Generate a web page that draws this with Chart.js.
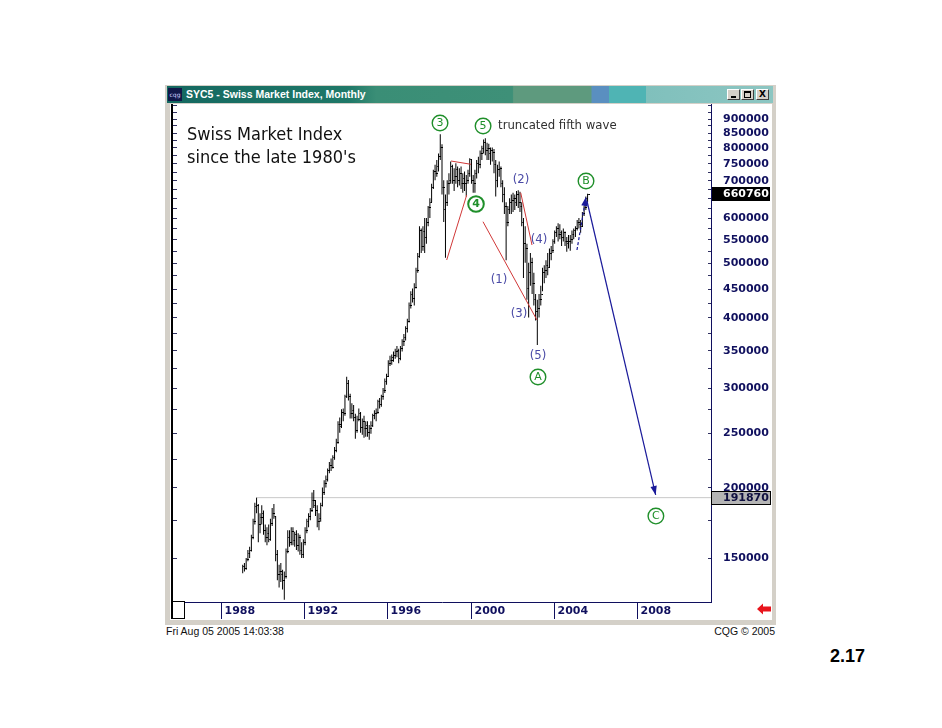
<!DOCTYPE html>
<html lang="en">
<head>
<meta charset="UTF-8">
<title>SYC5 - Swiss Market Index, Monthly</title>
<script src="https://cdn.jsdelivr.net/npm/chart.js"></script>
<style>
    body { margin: 0; background: #fff; width: 942px; height: 728px; overflow: hidden; position: relative; font-family: "Liberation Sans", Arial, sans-serif; }
    .frame { position: absolute; left: 165px; top: 85px; width: 611px; height: 540px; background: #d4d0c8; }
    .titlebar { position: absolute; left: 167px; top: 86px; width: 606px; height: 17px; color: #fff;
        background: linear-gradient(to right, #146860 0%, #1f7868 30%, #3a8e76 34.5%, #3e9078 57%, #5e9a7e 57.2%, #5e9a7e 70%,
            #5a8fc0 70.1%, #5a8fc0 72.9%, #4fb4b4 73%, #4fb4b4 79%, #80c0bc 79.1%, #8cc6c2 100%); }
    .titlebar .icon { position: absolute; left: 1px; top: 2px; width: 14px; height: 13px; background: #101848; color: #d0d0ff; font: 6px "DejaVu Sans"; line-height: 13px; text-align: center; }
    .titlebar .text { position: absolute; left: 19px; top: 0; font: bold 10.5px "Liberation Sans", Arial, sans-serif; line-height: 17px; white-space: nowrap; }
    .btn { position: absolute; top: 3px; width: 13px; height: 11px; background: #d4d0c8; box-sizing: border-box;
        border-top: 1px solid #fff; border-left: 1px solid #fff; border-right: 1px solid #404040; border-bottom: 1px solid #404040; }
    .btn.min::after { content: ""; position: absolute; left: 3px; top: 6px; width: 5px; height: 2px; background: #000; }
    .btn.max::after { content: ""; position: absolute; left: 2px; top: 1px; width: 5px; height: 4px; border: 1px solid #000; border-top-width: 2px; }
    .btn.cls { font: bold 9px "DejaVu Sans"; line-height: 9px; text-align: center; color: #000; }
    .panel { position: absolute; left: 170px; top: 104px; width: 602px; height: 516px; background: #fff; }
    .foot { position: absolute; top: 625px; font-size: 10.5px; color: #111; white-space: nowrap; }
    .page { position: absolute; left: 830px; top: 646px; font: bold 18px "Liberation Sans", Arial, sans-serif; color: #000; }
    #smiChart { position: absolute; left: 0; top: 0; }
</style>
</head>
<body>
    <div class="frame"></div>
    <div class="titlebar">
        <div class="icon">cqg</div>
        <div class="text">SYC5 - Swiss Market Index, Monthly</div>
        <div class="btn min" style="left:560px"></div>
        <div class="btn max" style="left:574px"></div>
        <div class="btn cls" style="left:589px">X</div>
    </div>
    <div class="panel"></div>
    <div class="foot" style="left:166px">Fri Aug 05 2005 14:03:38</div>
    <div class="foot" style="right:167px">CQG &copy; 2005</div>
    <div class="page">2.17</div>
    <canvas id="smiChart" width="942" height="728"></canvas>

<script>
// monthly bars, Jan 1989 .. Aug 2005, values in thousands (chart units)
const startYear = 1989;
const highsK = [
    146, 147, 150, 155, 157, 165, 176, 188, 191.87, 187, 180, 186,
    182, 172, 170, 172, 176, 184, 187, 178, 155, 146, 147, 143,
    142, 156, 168, 168, 170, 170, 167, 168, 166, 165, 160, 162,
    170, 176, 180, 184, 196, 198, 190, 186, 180, 188, 200, 206,
    210, 216, 222, 225, 228, 236, 244, 262, 266, 275, 276, 292,
    314, 310, 293, 282, 280, 270, 268, 276, 272, 265, 268, 262,
    262, 258, 262, 270, 274, 276, 286, 288, 292, 300, 312, 318,
    336, 342, 344, 348, 352, 356, 352, 356, 366, 374, 386, 398,
    425, 445, 450, 460, 490, 520, 580, 575, 580, 600, 600, 630,
    650, 690, 730, 745, 760, 780, 844, 810, 700, 660, 700, 720,
    755, 745, 735, 750, 740, 735, 740, 720, 725, 715, 730, 765,
    760, 715, 730, 760, 770, 790, 805, 826, 830, 815, 812, 800,
    800, 795, 760, 745, 755, 740, 700, 680, 640, 630, 650, 660,
    665, 660, 670, 672, 668, 640, 600, 580, 540, 500, 520, 510,
    480, 440, 430, 440, 455, 490, 495, 505, 520, 530, 535, 550,
    570, 580, 587, 585, 570, 575, 568, 555, 560, 560, 570, 575,
    580, 595, 600, 595, 615, 630, 655, 662
];
const lowsK = [
    141, 142, 143, 148, 150, 154, 162, 172, 180, 160, 166, 172,
    165, 160, 158, 160, 161, 171, 176, 148, 137, 133, 136, 132,
    126.5, 138, 153, 157, 158, 158, 157, 155, 154, 152, 150, 150,
    158, 166, 170, 175, 181, 184, 178, 170, 168, 174, 185, 194,
    200, 205, 212, 214, 216, 224, 231, 239, 250, 255, 262, 268,
    288, 285, 265, 265, 262, 244, 250, 262, 250, 248, 245, 246,
    246, 243, 249, 256, 264, 262, 270, 276, 278, 286, 294, 304,
    314, 328, 330, 334, 338, 340, 332, 336, 348, 356, 364, 376,
    392, 415, 425, 420, 450, 480, 510, 520, 525, 520, 540, 580,
    600, 640, 675, 700, 710, 725, 760, 660, 590, 510, 630, 660,
    690, 690, 670, 690, 680, 685, 675, 665, 670, 655, 690, 710,
    690, 665, 665, 705, 720, 735, 760, 780, 775, 760, 760, 745,
    755, 720, 655, 680, 710, 680, 640, 610, 505, 580, 610, 610,
    615, 620, 630, 625, 615, 580, 470, 500, 430, 400, 455, 440,
    420, 395, 357.5, 400, 420, 445, 460, 470, 475, 490, 505, 520,
    540, 555, 545, 550, 535, 545, 535, 523, 530, 525, 540, 550,
    555, 570, 575, 565, 580, 605, 620, 640
];
const closesK = [
    145, 144, 149, 153, 155, 163, 174, 185, 186, 172, 177, 180,
    168, 163, 166, 162, 173, 180, 178, 152, 140, 142, 140, 137,
    139, 154, 163, 160, 167, 161, 165, 158, 163, 155, 152, 160,
    168, 174, 178, 182, 190, 186, 182, 174, 176, 186, 196, 203,
    207, 214, 219, 217, 226, 233, 240, 259, 256, 272, 270, 290,
    305, 290, 270, 274, 266, 252, 264, 270, 255, 262, 254, 258,
    250, 254, 258, 268, 270, 272, 284, 281, 290, 297, 308, 315,
    332, 336, 340, 343, 348, 350, 338, 352, 362, 368, 382, 394,
    420, 440, 432, 452, 485, 512, 570, 535, 568, 555, 590, 625,
    640, 680, 725, 720, 740, 770, 800, 680, 620, 640, 690, 700,
    740, 700, 710, 730, 700, 720, 690, 705, 690, 700, 720, 760,
    700, 690, 720, 750, 745, 780, 795, 815, 790, 795, 780, 790,
    785, 745, 700, 730, 735, 690, 660, 630, 590, 620, 640, 645,
    650, 640, 660, 640, 630, 590, 540, 530, 450, 480, 500, 460,
    430, 410, 415, 430, 440, 480, 485, 495, 490, 520, 525, 545,
    565, 575, 560, 565, 555, 565, 545, 540, 545, 550, 560, 570,
    575, 590, 585, 580, 610, 625, 650, 660.76
];

const yLabels = [900000, 850000, 800000, 750000, 700000, 600000, 550000, 500000,
    450000, 400000, 350000, 300000, 250000, 200000, 150000];
const yearTicks = [1988, 1992, 1996, 2000, 2004, 2008];
const lastValue = 660760;
const levelValue = 191870;
const levelFrom = 1989.68;

// Elliott wave annotations: [year, value]
const circled = [
    { t: 1998.53, v: 883600, text: "3" },
    { t: 2000.60, v: 872900, text: "5" },
    { t: 2000.26, v: 635100, text: "4", bold: true },
    { t: 2003.24, v: 313800, text: "A" },
    { t: 2005.55, v: 697600, text: "B" },
    { t: 2008.91, v: 178000, text: "C" }
];
const subWaves = [
    { t: 2002.42, v: 700500, text: "(2)" },
    { t: 2003.29, v: 548500, text: "(4)" },
    { t: 2001.37, v: 465900, text: "(1)" },
    { t: 2002.33, v: 405600, text: "(3)" },
    { t: 2003.24, v: 341700, text: "(5)" }
];
const note = { t: 2001.32, v: 872900, text: "truncated fifth wave" };
const redLines = [
    [[1998.851, 505500], [1999.813, 658900]],
    [[1999.058, 756800], [2000.019, 746700]],
    [[2000.596, 590900], [2003.192, 395800]],
    [[2002.409, 665100], [2002.952, 537400]]
];
const blueArrows = [
    [[2005.115, 526600], [2005.548, 653600]],
    [[2005.596, 643000], [2008.899, 194000]]
];

const X_MIN = 1985.69, X_MAX = 2011.56;
const NAVY = "#10105e";

const monthT = highsK.map((_, i) => startYear + (i + 0.5) / 12);

// close tick drawn to the right of each bar
const closeTick = document.createElement("canvas");
closeTick.width = 5; closeTick.height = 1;
closeTick.getContext("2d").fillRect(3, 0, 2, 1);

const pt = p => ({ x: p[0], y: p[1] });

const datasets = [
    {
        type: "bar",
        data: monthT.map((t, i) => ({ x: t, y: [lowsK[i] * 1000, highsK[i] * 1000] })),
        backgroundColor: "#000",
        barThickness: 1,
        inflateAmount: 0,
        order: 5
    },
    {
        type: "scatter",
        data: monthT.map((t, i) => ({ x: t, y: closesK[i] * 1000 })),
        pointStyle: closeTick,
        pointRadius: 2,
        order: 4
    },
    {
        type: "line",
        data: [{ x: levelFrom, y: levelValue }, { x: X_MAX, y: levelValue }],
        borderColor: "#c8c8c8", borderWidth: 1, pointRadius: 0, order: 10
    }
];
redLines.forEach(l => datasets.push({
    type: "line", data: l.map(pt), borderColor: "#d03838", borderWidth: 1, pointRadius: 0, order: 1
}));
blueArrows.forEach((l, i) => datasets.push({
    type: "line", data: l.map(pt), borderColor: "#1a1a9a", borderWidth: 1.2, pointRadius: 0,
    borderDash: i === 0 ? [3, 2] : [], order: 1, arrow: true
}));

const chromePlugin = {
    id: "chrome",
    afterDatasetsDraw(chart) {
        const ctx = chart.ctx;
        ctx.save();
        chart.data.datasets.forEach((ds, i) => {
            if (!ds.arrow) return;
            const pts = chart.getDatasetMeta(i).data;
            const a = pts[pts.length - 2], b = pts[pts.length - 1];
            const ang = Math.atan2(b.y - a.y, b.x - a.x);
            ctx.fillStyle = "#1a1a9a";
            ctx.beginPath();
            ctx.moveTo(b.x, b.y);
            ctx.lineTo(b.x - 9 * Math.cos(ang) + 3.2 * Math.sin(ang), b.y - 9 * Math.sin(ang) - 3.2 * Math.cos(ang));
            ctx.lineTo(b.x - 9 * Math.cos(ang) - 3.2 * Math.sin(ang), b.y - 9 * Math.sin(ang) + 3.2 * Math.cos(ang));
            ctx.closePath();
            ctx.fill();
        });
        ctx.restore();
    },
    afterDraw(chart) {
        const { ctx, chartArea: a } = chart;
        const xs = chart.scales.x, ys = chart.scales.y;
        ctx.save();

        // plot frame
        ctx.strokeStyle = NAVY;
        ctx.lineWidth = 1;
        ctx.beginPath();
        ctx.moveTo(a.right + 0.5, a.top); ctx.lineTo(a.right + 0.5, a.bottom + 1);
        ctx.moveTo(a.left, a.bottom + 0.5); ctx.lineTo(a.right + 1, a.bottom + 0.5);
        ctx.stroke();
        ctx.fillStyle = "#000";
        ctx.fillRect(a.left - 2, a.top, 2, 515);

        // minor ticks on both price edges
        ctx.strokeStyle = "#303060";
        ctx.beginPath();
        for (let v = 125000; v <= 950000; v += 25000) {
            const py = Math.round(ys.getPixelForValue(v)) + 0.5;
            if (py < a.top || py > a.bottom) continue;
            ctx.moveTo(a.left, py); ctx.lineTo(a.left + 4, py);
            ctx.moveTo(a.right - 3, py); ctx.lineTo(a.right, py);
        }
        ctx.stroke();

        // time axis strip
        ctx.strokeStyle = NAVY;
        ctx.fillStyle = NAVY;
        ctx.font = 'bold 11px "DejaVu Sans"';
        ctx.textBaseline = "alphabetic";
        ctx.textAlign = "left";
        yearTicks.forEach(yr => {
            const px = Math.round(xs.getPixelForValue(yr)) + 0.5;
            ctx.beginPath(); ctx.moveTo(px, a.bottom); ctx.lineTo(px, a.bottom + 17); ctx.stroke();
            ctx.fillText(String(yr), px + 3, a.bottom + 12);
        });
        ctx.fillStyle = "#fff";
        ctx.fillRect(a.left, a.bottom - 1, 11, 17);
        ctx.strokeStyle = "#000";
        ctx.strokeRect(a.left - 0.5, a.bottom - 0.5, 12, 17);

        // red scroll arrow
        ctx.fillStyle = "#e8141c";
        ctx.beginPath();
        ctx.moveTo(757, 609); ctx.lineTo(763, 603.5); ctx.lineTo(763, 606.5); ctx.lineTo(771, 606.5);
        ctx.lineTo(771, 611.5); ctx.lineTo(763, 611.5); ctx.lineTo(763, 614.5);
        ctx.closePath(); ctx.fill();

        // price labels
        ctx.textBaseline = "middle";
        ctx.fillStyle = NAVY;
        yLabels.forEach(v => ctx.fillText(String(v), a.right + 12, ys.getPixelForValue(v) + 0.5));
        let py = Math.round(ys.getPixelForValue(lastValue));
        ctx.fillStyle = "#000";
        ctx.fillRect(a.right + 1, py - 7, 58, 14);
        ctx.fillStyle = "#fff";
        ctx.fillText(String(lastValue), a.right + 12, py + 0.5);
        py = Math.round(ys.getPixelForValue(levelValue));
        ctx.fillStyle = "#b4b4b4";
        ctx.fillRect(a.right + 1, py - 6, 58, 12);
        ctx.strokeStyle = "#000";
        ctx.strokeRect(a.right + 0.5, py - 6.5, 59, 13);
        ctx.fillStyle = "#101040";
        ctx.fillText(String(levelValue), a.right + 12, py + 0.5);

        // chart title inside plot
        ctx.fillStyle = "#111";
        ctx.font = '18px "DejaVu Sans Condensed", "Open Sans", sans-serif';
        ctx.fillText("Swiss Market Index", 187, 135);
        ctx.fillText("since the late 1980's", 187, 158);

        // wave labels
        ctx.textAlign = "center";
        circled.forEach(c => {
            const cx = xs.getPixelForValue(c.t), cy = ys.getPixelForValue(c.v);
            ctx.strokeStyle = "#1f8f2a";
            ctx.lineWidth = c.bold ? 2 : 1.4;
            ctx.beginPath(); ctx.arc(cx, cy, 7.8, 0, Math.PI * 2); ctx.stroke();
            ctx.fillStyle = "#1f8f2a";
            ctx.font = (c.bold ? "bold " : "") + '11px "DejaVu Sans"';
            ctx.fillText(c.text, cx, cy + 0.5);
        });
        ctx.fillStyle = "#4a4aa6";
        ctx.font = '13px "DejaVu Sans Condensed", "DejaVu Sans", sans-serif';
        subWaves.forEach(s => ctx.fillText(s.text, xs.getPixelForValue(s.t), ys.getPixelForValue(s.v)));
        ctx.textAlign = "left";
        ctx.fillStyle = "#303030";
        ctx.fillText(note.text, xs.getPixelForValue(note.t), ys.getPixelForValue(note.v));
        ctx.restore();
    }
};

new Chart(document.getElementById("smiChart"), {
    type: "bar",
    data: { datasets },
    options: {
        responsive: false,
        animation: false,
        devicePixelRatio: 1,
        events: [],
        layout: { padding: { left: 173, right: 231, top: 104, bottom: 126 } },
        plugins: { legend: { display: false }, tooltip: { enabled: false } },
        scales: {
            x: { type: "linear", min: X_MIN, max: X_MAX, offset: false, display: false },
            y: { type: "logarithmic", min: 125400, max: 954800, display: false }
        }
    },
    plugins: [chromePlugin]
});
</script>
</body>
</html>
